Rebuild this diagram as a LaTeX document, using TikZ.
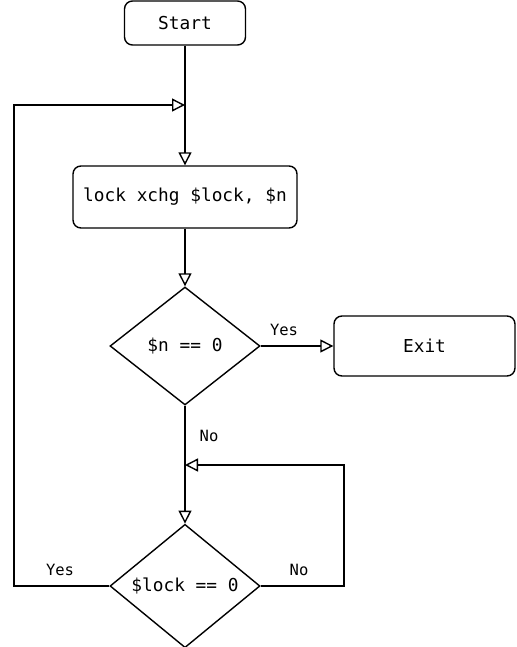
\documentclass[tikz,border=0pt]{standalone}
\usepackage{fontspec}
\setmonofont{DejaVu Sans Mono}
\usetikzlibrary{shapes.geometric,arrows.meta}
\tikzset{
  box/.style={draw, rounded corners=8pt, line width=1.4pt, inner sep=0pt, font=\ttfamily\fontsize{17.8}{20}\selectfont},
  dec/.style={draw, diamond, line width=1.4pt, inner sep=0pt, minimum width=150pt, minimum height=118pt, font=\ttfamily\fontsize{17.8}{20}\selectfont},
  conn/.style={line width=1.4pt, -{Triangle[open, length=13pt, width=13pt, line width=1.4pt]}},
  lbl/.style={font=\ttfamily\fontsize{15.5}{17}\selectfont, inner sep=0pt}
}
\begin{document}
\begin{tikzpicture}[x=1pt,y=-1pt]
\useasboundingbox (0,0) rectangle (516,647);
\node[box, minimum width=121pt, minimum height=44pt] (start) at (185,23) {Start};
\node[box, minimum width=224pt, minimum height=62pt] (lock) at (185,197) {lock xchg \$lock, \$n};
\node[dec] (d1) at (185,346) {\$n == 0};
\node[box, minimum width=181pt, minimum height=60pt] (exit) at (424.5,346) {Exit};
\node[dec] (d2) at (185,586) {\$lock == 0};
\coordinate (j1) at (185,105);
\coordinate (j2) at (185,465);
\coordinate (l1) at (14,586);
\coordinate (r1) at (344,586);
\draw[conn] (start.south) -- (lock.north);
\draw[conn] (lock.south) -- (d1.north);
\draw[conn] (d1.east) -- (exit.west);
\draw[conn] (d1.south) -- (d2.north);
\draw[conn] (d2.west) -- (l1) |- (j1);
\draw[conn] (d2.east) -- (r1) |- (j2);
\node[lbl] (y1) at (284,330) {Yes};
\node[lbl] (n1) at (209,436) {No};
\node[lbl] (y2) at (60,570) {Yes};
\node[lbl] (n2) at (299,570) {No};
\end{tikzpicture}
\end{document}
